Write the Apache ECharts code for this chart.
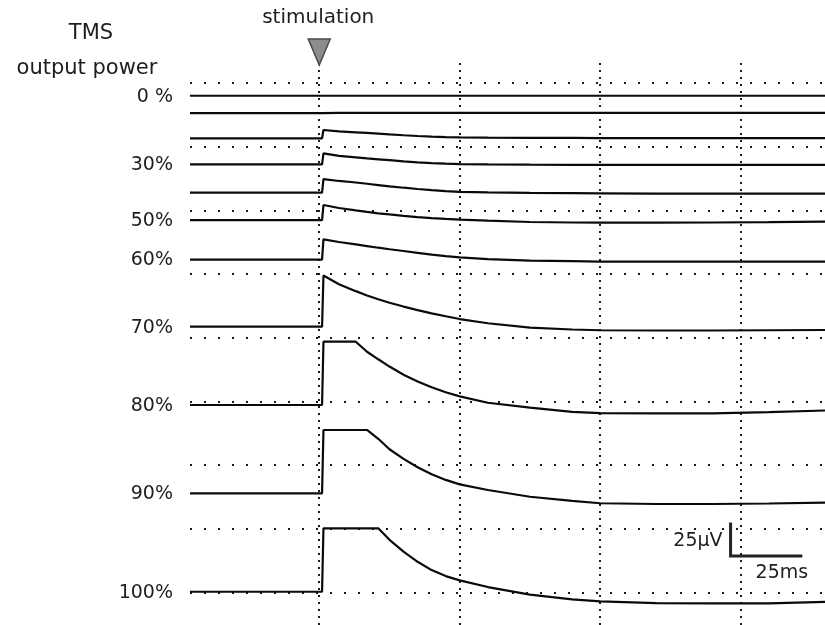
<!DOCTYPE html>
<html>
<head>
<meta charset="utf-8">
<script src="https://cdn.jsdelivr.net/npm/echarts@6/dist/echarts.min.js"></script>
<style>
  html, body { margin: 0; padding: 0; background: #fff; }
  #chart { width: 825px; height: 625px; }
</style>
</head>
<body>
<div id="chart"></div>
<script>
// Sample times of every sweep, ms after the TMS pulse
const timesMs = [-46, 1, 1.5, 7, 13, 17, 21, 25, 30, 35, 40, 45, 50, 60, 75, 90, 100, 120, 140, 160, 180];

// Stimulator output levels, top sweep first
const powerLevels = ['0%', '10%', '20%', '30%', '40%', '50%', '60%', '70%', '80%', '90%', '100%'];
const levelLabels = ['0 %', '', '', '30%', '', '50%', '60%', '70%', '80%', '90%', '100%'];

// Recorded response, µV relative to the pre-stimulus level of each sweep
const resp0   = [0, 0, 0, 0, 0, 0, 0, 0, 0, 0, 0, 0, 0, 0, 0, 0, 0, 0, 0, 0, 0];
const resp10  = [0, 0, 1.0, 0.2, 0.2, 0.2, 0.2, 0.2, 0.2, 0.2, 0.2, 0.2, 0.2, 0.2, 0.2, 0.3, 0.3, 0.3, 0.3, 0.3, 0.3];
const resp20  = [0, 0, 6.5, 5.4, 4.7, 4.2, 3.7, 3.1, 2.4, 1.8, 1.3, 0.9, 0.7, 0.5, 0.4, 0.3, 0.2, 0.2, 0.2, 0.2, 0.2];
const resp30  = [0, 0, 8.6, 6.6, 5.4, 4.6, 3.9, 3.2, 2.3, 1.5, 0.9, 0.5, 0.2, -0.1, -0.3, -0.4, -0.5, -0.5, -0.5, -0.5, -0.5];
const resp40  = [0, 0, 10.6, 9.1, 7.9, 6.9, 5.9, 4.9, 3.8, 2.8, 1.9, 1.2, 0.6, 0.1, -0.3, -0.5, -0.6, -0.8, -0.8, -0.8, -0.8];
const resp50  = [0, 0, 11.8, 9.5, 7.6, 6.4, 5.3, 4.4, 3.3, 2.3, 1.5, 0.9, 0.4, -0.5, -1.5, -1.9, -2.0, -2.0, -1.9, -1.6, -1.2];
const resp60  = [0, 0, 15.9, 13.8, 11.9, 10.6, 9.3, 8.1, 6.7, 5.3, 3.9, 2.7, 1.7, 0.4, -0.8, -1.3, -1.6, -1.7, -1.7, -1.7, -1.7];
const resp70  = [0, 0, 40.2, 33.3, 27.9, 24.5, 21.5, 18.8, 15.8, 13.0, 10.5, 8.2, 6.0, 2.7, -0.8, -2.2, -2.8, -3.0, -3.0, -2.8, -2.6];
const resp80  = [0, 0, 49.7, 49.7, 49.7, 41.8, 35.9, 30.2, 23.8, 18.5, 13.9, 10.0, 6.8, 1.8, -2.0, -5.4, -6.4, -6.6, -6.5, -5.6, -4.3];
const resp90  = [0, 0, 49.7, 49.7, 49.7, 49.7, 42.8, 34.6, 27.0, 20.4, 14.9, 10.5, 7.0, 2.6, -2.7, -6.0, -7.8, -8.4, -8.4, -8.0, -7.4];
const resp100 = [0, 0, 49.8, 49.8, 49.8, 49.8, 49.8, 40.8, 31.5, 23.5, 17.0, 12.3, 8.9, 3.7, -2.2, -6.0, -7.5, -8.9, -9.1, -9.1, -7.9];
const responses = [resp0, resp10, resp20, resp30, resp40, resp50, resp60, resp70, resp80, resp90, resp100];

// Vertical placement of each sweep on the screen (µV)
const sweepOffsets = [390.0, 376.3, 356.6, 336.2, 314.0, 292.4, 261.4, 208.7, 147.2, 77.9, 0.6];

// Oscilloscope graticule (50 ms x 50 µV) and calibration bar
const gridRowsUv = [0, 50, 100, 150, 200, 250, 300, 350, 400];
const gridColsMs = [0, 50, 100, 150];
const scaleBarMs = 25;
const scaleBarUv = 25;
const scaleBarCorner = [146.4, 28.7];

const FONT = 'DejaVu Sans';
const INK = '#0a0a0a';
const TEXT = '#1e1e1e';

const chart = echarts.init(document.getElementById('chart'), null, { renderer: 'canvas' });

const sweepSeries = responses.map((resp, i) => ({
  name: powerLevels[i],
  type: 'line',
  showSymbol: false,
  silent: true,
  z: 5,
  lineStyle: { color: INK, width: 2.2 },
  data: timesMs.map((t, k) => [t, sweepOffsets[i] + resp[k]]),
  markPoint: levelLabels[i] ? {
    symbol: 'circle',
    symbolSize: 0,
    silent: true,
    data: [{
      coord: [timesMs[0], sweepOffsets[i]],
      label: {
        show: true,
        formatter: levelLabels[i],
        position: [-17, 1],
        align: 'right',
        verticalAlign: 'middle',
        fontFamily: FONT,
        fontSize: 19,
        color: TEXT
      }
    }]
  } : undefined
}));

const rowGrid = {
  type: 'line',
  data: [],
  silent: true,
  z: 1,
  markLine: {
    silent: true,
    symbol: ['none', 'none'],
    label: { show: false },
    lineStyle: { color: '#1a1a1a', width: 2, type: [2, 12] },
    data: gridRowsUv.map(v => ({ yAxis: v }))
  }
};

const colGrid = {
  type: 'line',
  data: [],
  silent: true,
  z: 1,
  markLine: {
    silent: true,
    symbol: ['none', 'none'],
    label: { show: false },
    lineStyle: { color: '#1a1a1a', width: 2, type: [2, 5] },
    data: gridColsMs.map(t => ({ xAxis: t }))
  }
};

const [cx, cy] = scaleBarCorner;
const scaleBar = {
  type: 'line',
  silent: true,
  showSymbol: false,
  z: 6,
  lineStyle: { color: '#222', width: 3, cap: 'square', join: 'miter' },
  data: [[cx, cy + scaleBarUv], [cx, cy], [cx + scaleBarMs, cy]],
  markPoint: {
    symbol: 'circle',
    symbolSize: 0,
    silent: true,
    data: [
      {
        coord: [cx, cy],
        label: {
          show: true, formatter: '25μV', position: [-8, -15],
          align: 'right', verticalAlign: 'middle',
          fontFamily: FONT, fontSize: 19, color: TEXT
        }
      },
      {
        coord: [cx, cy],
        label: {
          show: true, formatter: '25ms', position: [25, 17],
          align: 'left', verticalAlign: 'middle',
          fontFamily: FONT, fontSize: 19, color: TEXT
        }
      }
    ]
  }
};

chart.setOption({
  animation: false,
  backgroundColor: '#fff',
  grid: { left: 190, right: 0, top: 62, bottom: 0 },
  xAxis: { type: 'value', min: -46, max: 180, show: false, splitLine: { show: false } },
  yAxis: { type: 'value', min: -25.5, max: 416.5, show: false, splitLine: { show: false } },
  series: [rowGrid, colGrid, ...sweepSeries, scaleBar]
});

// Stimulus marker and titles
const stimX = chart.convertToPixel({ xAxisIndex: 0 }, 0);
chart.setOption({
  graphic: [
    {
      type: 'text', x: stimX - 1, y: 18,
      style: { text: 'stimulation', fontFamily: FONT, fontSize: 20, fill: TEXT, align: 'center', verticalAlign: 'middle' }
    },
    {
      type: 'polygon', z: 10,
      shape: { points: [[stimX - 11, 39], [stimX + 11, 39], [stimX, 65]] },
      style: { fill: '#8c8c8c', stroke: '#4a4a4a', lineWidth: 1.5 }
    },
    {
      type: 'text', x: 91, y: 34,
      style: { text: 'TMS', fontFamily: FONT, fontSize: 21, fill: TEXT, align: 'center', verticalAlign: 'middle' }
    },
    {
      type: 'text', x: 87, y: 69,
      style: { text: 'output power', fontFamily: FONT, fontSize: 21, fill: TEXT, align: 'center', verticalAlign: 'middle' }
    }
  ]
});
</script>
</body>
</html>
